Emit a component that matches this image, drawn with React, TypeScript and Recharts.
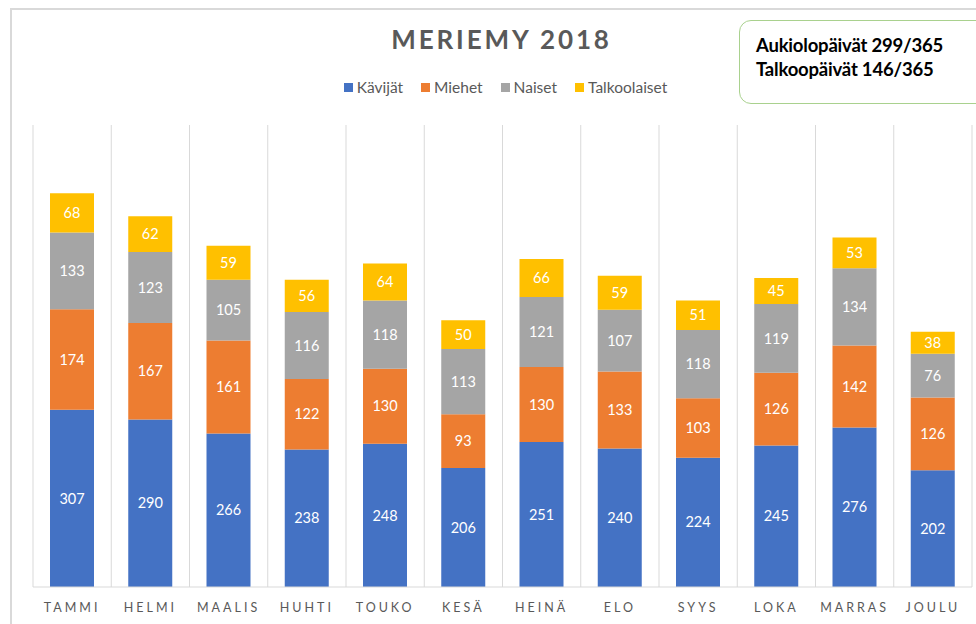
import React from "react"
import { BarChart, Bar, XAxis, YAxis, CartesianGrid, LabelList } from "recharts"

const months = ["TAMMI", "HELMI", "MAALIS", "HUHTI", "TOUKO", "KESÄ", "HEINÄ", "ELO", "SYYS", "LOKA", "MARRAS", "JOULU"]
const kavijat = [307, 290, 266, 238, 248, 206, 251, 240, 224, 245, 276, 202]
const miehet = [174, 167, 161, 122, 130, 93, 130, 133, 103, 126, 142, 126]
const naiset = [133, 123, 105, 116, 118, 113, 121, 107, 118, 119, 134, 76]
const talkoolaiset = [68, 62, 59, 56, 64, 50, 66, 59, 51, 45, 53, 38]

const series = [
  { key: "kavijat", name: "Kävijät", color: "#4472C4" },
  { key: "miehet", name: "Miehet", color: "#ED7D31" },
  { key: "naiset", name: "Naiset", color: "#A5A5A5" },
  { key: "talkoolaiset", name: "Talkoolaiset", color: "#FFC000" },
]

const data = months.map((m, i) => ({
  month: m,
  kavijat: kavijat[i],
  miehet: miehet[i],
  naiset: naiset[i],
  talkoolaiset: talkoolaiset[i],
}))

const FONT = "Lato, 'Open Sans', sans-serif"

const MonthTick = (props: any) => {
  const { x, y, payload } = props
  return (
    <text x={x} y={y + 17} textAnchor="middle" fill="#595959" fontSize={12.5} fontFamily={FONT} letterSpacing={3}>
      {payload.value}
    </text>
  )
}

// grid lines sit on category edges, not on the centres
const edgeLines = ({ offset }: any) => {
  const step = offset.width / months.length
  return Array.from({ length: months.length + 1 }, (_, i) => offset.left + i * step)
}

export default function App() {
  return (
    <div style={{ position: "absolute", left: 0, top: 0, width: 976, height: 624, overflow: "hidden", background: "#fff", fontFamily: FONT }}>
      <div style={{ position: "absolute", left: 10, top: 8, width: 1100, height: 700, border: "2px solid #d9d9d9", boxSizing: "border-box" }} />
      <div style={{ position: "absolute", left: 0, top: 23, width: 1003, textAlign: "center", fontSize: 26, fontWeight: 700, color: "#595959", letterSpacing: 2.9 }}>
        MERIEMY 2018
      </div>
      <div style={{ position: "absolute", left: 0, top: 78, width: 1011, display: "flex", justifyContent: "center", gap: 18, fontSize: 15.5, color: "#595959" }}>
        {series.map((s) => (
          <div key={s.key} style={{ display: "flex", alignItems: "center" }}>
            <span style={{ display: "inline-block", width: 9, height: 9, background: s.color, marginRight: 4 }} />
            <span>{s.name}</span>
          </div>
        ))}
      </div>
      <div style={{ position: "absolute", left: 739, top: 20, width: 300, height: 84, border: "1.5px solid #a9d18e", borderRadius: 12, boxSizing: "border-box", padding: "12px 0 0 16px", fontWeight: 700, fontSize: 18.5, lineHeight: "24px", color: "#000", letterSpacing: -0.2 }}>
        <div>Aukiolopäivät 299/365</div>
        <div>Talkoopäivät 146/365</div>
      </div>
      <div style={{ position: "absolute", left: 0, top: 0 }}>
        <BarChart width={976} height={624} data={data} margin={{ top: 125, right: 4, left: 33, bottom: 0 }}>
          <CartesianGrid horizontal={false} stroke="#d9d9d9" verticalCoordinatesGenerator={edgeLines} />
          <XAxis dataKey="month" height={37} tickLine={false} axisLine={{ stroke: "#d9d9d9" }} tick={<MonthTick />} interval={0} />
          <YAxis hide domain={[0, 800]} />
          {series.map((s) => (
            <Bar key={s.key} dataKey={s.key} name={s.name} stackId="a" fill={s.color} barSize={44} isAnimationActive={false}>
              <LabelList dataKey={s.key} position="center" fill="#fff" fontSize={14.5} fontFamily={FONT} />
            </Bar>
          ))}
        </BarChart>
      </div>
    </div>
  )
}
